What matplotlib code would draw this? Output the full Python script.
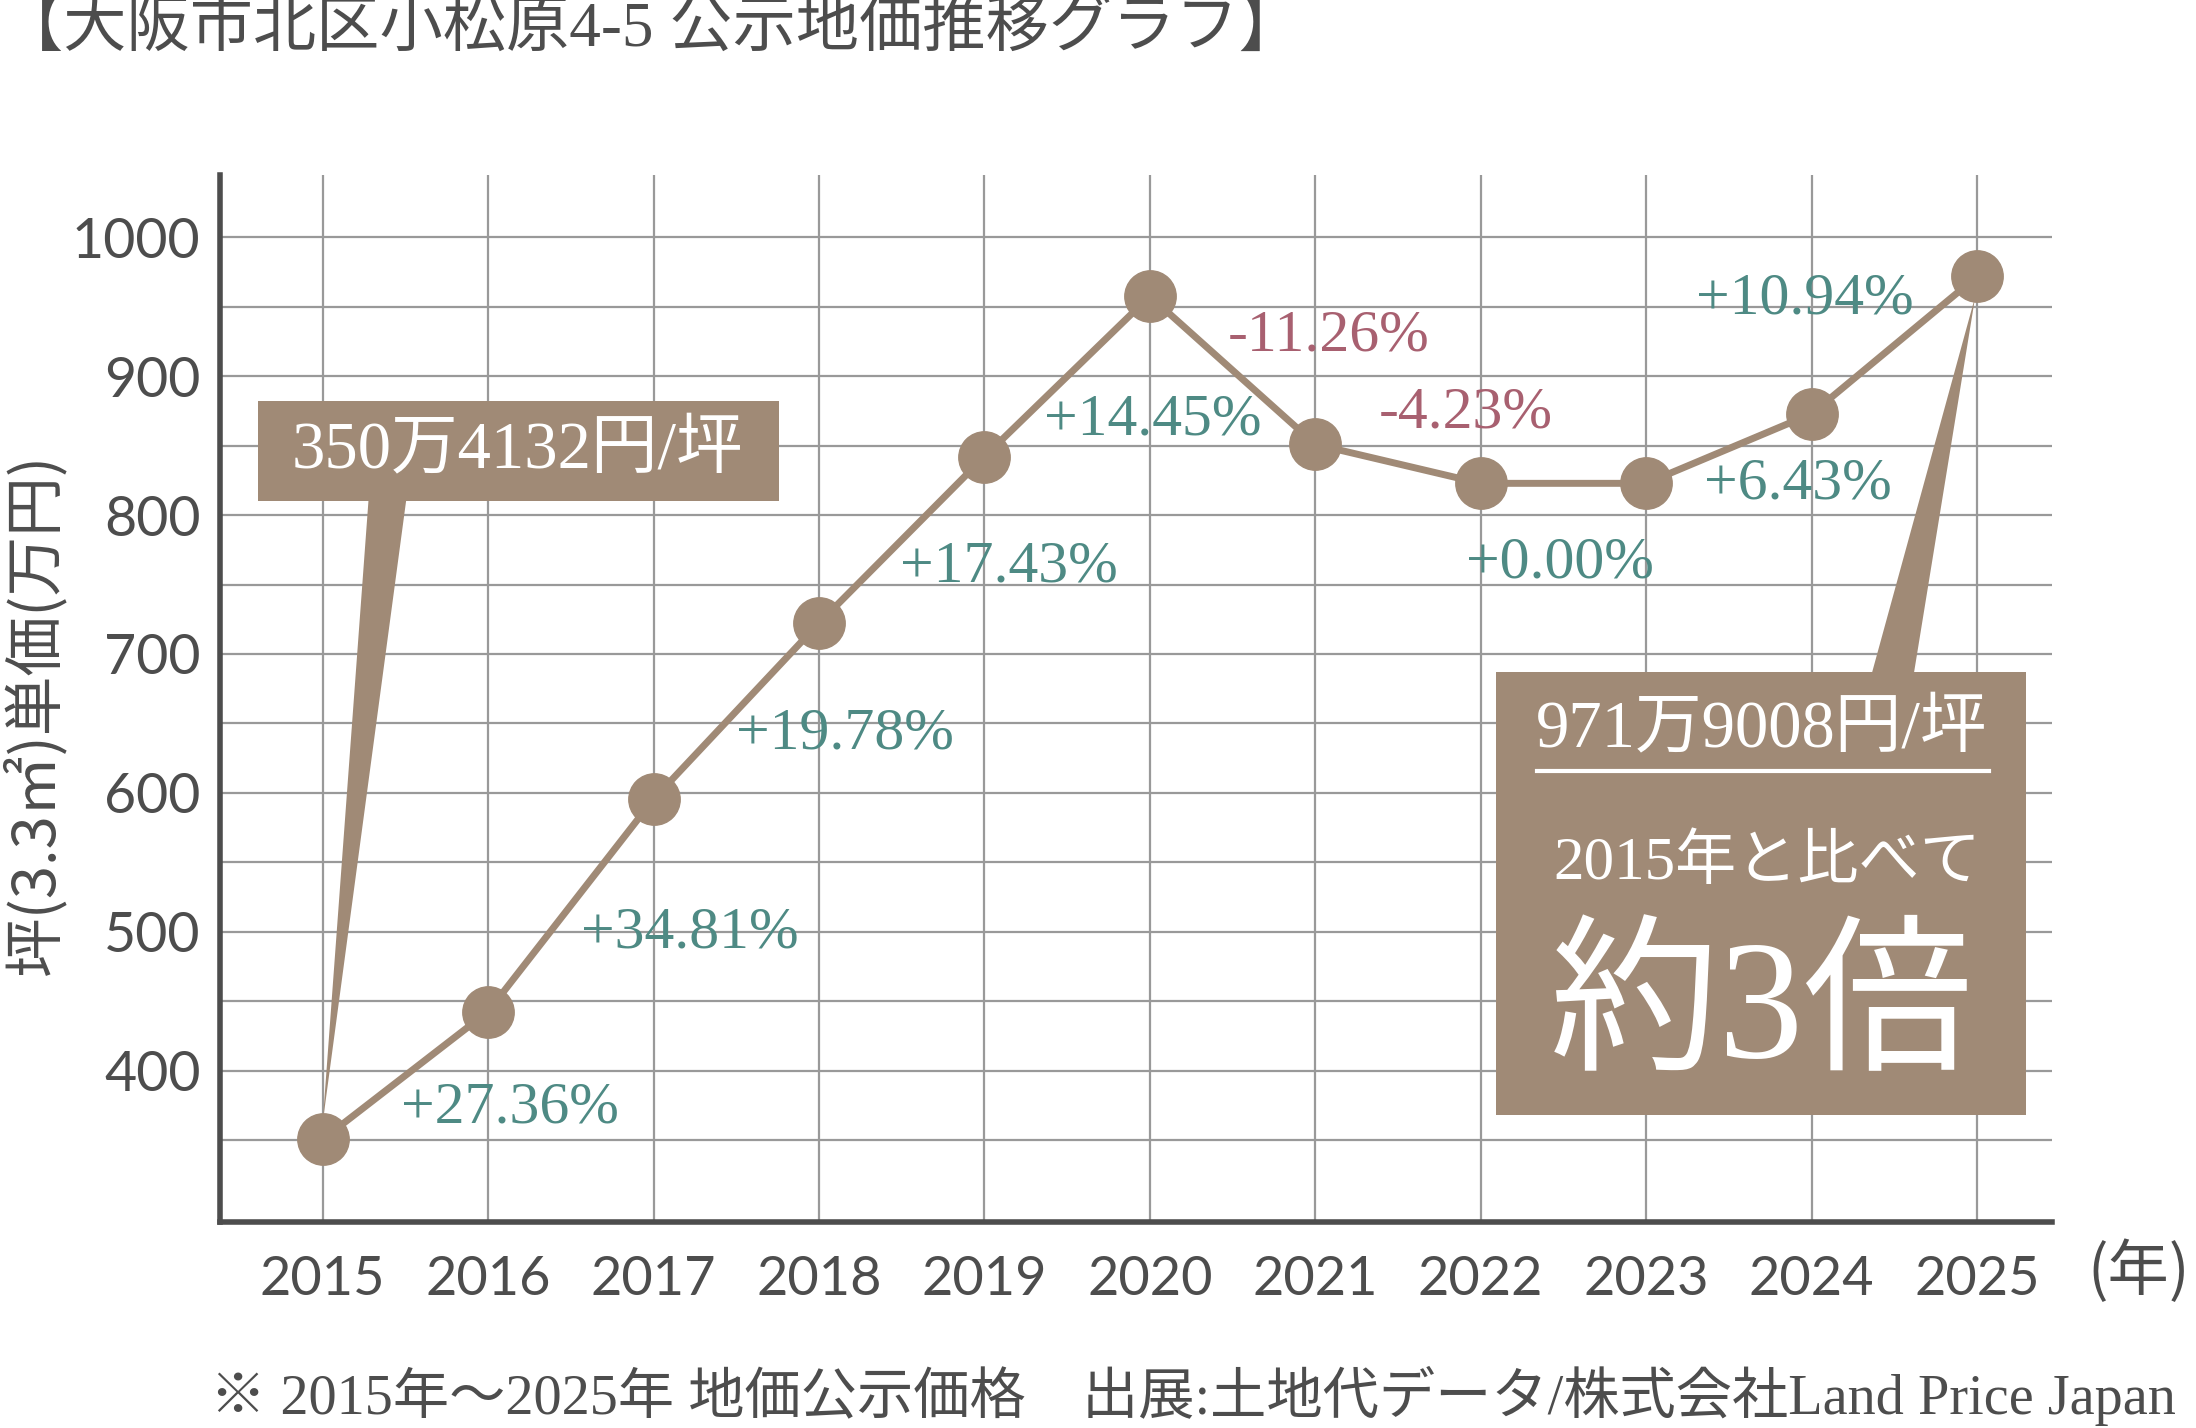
import matplotlib
matplotlib.use("Agg")
import matplotlib.pyplot as plt
from matplotlib.patches import Rectangle, Polygon

# データ (万円/坪)
years = [2015, 2016, 2017, 2018, 2019, 2020, 2021, 2022, 2023, 2024, 2025]
price = [350.4, 442.5, 595.4, 722.2, 842.1, 957.7, 851.0, 822.9, 822.9, 873.0, 971.9]
changes = ["+27.36%", "+34.81%", "+19.78%", "+17.43%", "+14.45%",
           "-11.26%", "-4.23%", "+0.00%", "+6.43%", "+10.94%"]
y_ticks = [400, 500, 600, 700, 800, 900, 1000]

title = "【大阪市北区小松原4-5 公示地価推移グラフ】"
ylabel = "坪(3.3㎡)単価(万円)"
note = "※ 2015年～2025年 地価公示価格　出展:土地代データ/株式会社Land Price Japan"
box1_text = "350万4132円/坪"
box2_text = ["971万9008円/坪", "2015年と比べて", "約3倍"]

# 変化率ラベルの位置
label_pos = [(2016.13, 373), (2017.22, 499), (2018.16, 642), (2019.15, 762),
             (2020.02, 868), (2021.08, 929), (2021.91, 873), (2022.48, 765),
             (2023.92, 822), (2023.96, 955)]

brown = "#a08a76"
teal = "#4e8a84"
rose = "#a86070"
dark = "#4d4d4d"

num_font = ["Lato", "Roboto", "DejaVu Sans"]
serif_jp = ["Liberation Serif", "Noto Sans CJK JP"]
sans_jp = ["Noto Sans CJK JP", "DejaVu Sans"]

fig = plt.figure(figsize=(21.96, 14.28), dpi=100)
ax = fig.add_axes([0.1002, 0.1443, 0.834, 0.7332])

ax.set_xlim(2014.38, 2025.45)
ax.set_ylim(291, 1045)

# グリッド
ax.set_xticks(years)
ax.set_yticks(y_ticks)
ax.set_yticks([350 + 100 * i for i in range(7)], minor=True)
ax.grid(True, which="both", color="#999999", lw=1.6, zorder=0)
ax.tick_params(which="both", length=0)
ax.tick_params(axis="y", pad=14, labelsize=40, labelcolor=dark)
ax.tick_params(axis="x", pad=24, labelsize=39, labelcolor=dark)
for lab in ax.get_xticklabels() + ax.get_yticklabels():
    lab.set_family(num_font)

for s in ["top", "right"]:
    ax.spines[s].set_visible(False)
for s in ["left", "bottom"]:
    ax.spines[s].set_color(dark)
    ax.spines[s].set_linewidth(4)

# 折れ線
ax.plot(years, price, color=brown, lw=5, marker="o", ms=37, zorder=4, clip_on=False)

for txt, (x, y) in zip(changes, label_pos):
    c = rose if txt.startswith("-") else teal
    ax.text(x, y, txt, color=c, fontsize=43, family="Liberation Serif",
            ha="center", va="center", zorder=5)

# 吹き出し1
ax.add_patch(Polygon([(2015.28, 815), (2015.51, 815), (years[0], 362)],
                     closed=True, color=brown, lw=0, zorder=3))
ax.add_patch(Rectangle((2014.611, 809.9), 3.147, 72.5, color=brown, lw=0,
                       zorder=3, clip_on=False))
ax.text(2016.18, 846, box1_text, color="white", fontsize=48, family=serif_jp,
        ha="center", va="center", zorder=6)

# 吹き出し2
ax.add_patch(Polygon([(2024.35, 680), (2024.61, 680), (years[-1] - 0.01, 958)],
                     closed=True, color=brown, lw=0, zorder=3))
ax.add_patch(Rectangle((2022.09, 367.8), 3.206, 319.2, color=brown, lw=0,
                       zorder=3, clip_on=False))
ax.text(2023.70, 645, box2_text[0], color="white", fontsize=48, family=serif_jp,
        ha="center", va="center", zorder=6)
ax.plot([2022.34, 2025.07], [615.5, 615.5], color="white", lw=3, zorder=6)
ax.text(2023.73, 549, box2_text[1], color="white", fontsize=44, family=serif_jp,
        ha="center", va="center", zorder=6)
ax.text(2023.70, 440, box2_text[2], color="white", fontsize=122, family=serif_jp,
        ha="center", va="center", zorder=6)

# タイトル・軸ラベル・注記
fig.text(0.0, 0.978, title, color=dark, fontsize=45.5, family=serif_jp,
         ha="left", va="center")
fig.text(0.016, 0.5, ylabel, color=dark, fontsize=43, family=sans_jp,
         rotation=90, ha="center", va="center")
fig.text(0.974, 0.109, "(年)", color=dark, fontsize=44, family=sans_jp,
         ha="center", va="center")
fig.text(0.0956, 0.0224, note, color=dark, fontsize=40.5, family=serif_jp,
         ha="left", va="center")

fig.savefig("out.png", dpi=100)
